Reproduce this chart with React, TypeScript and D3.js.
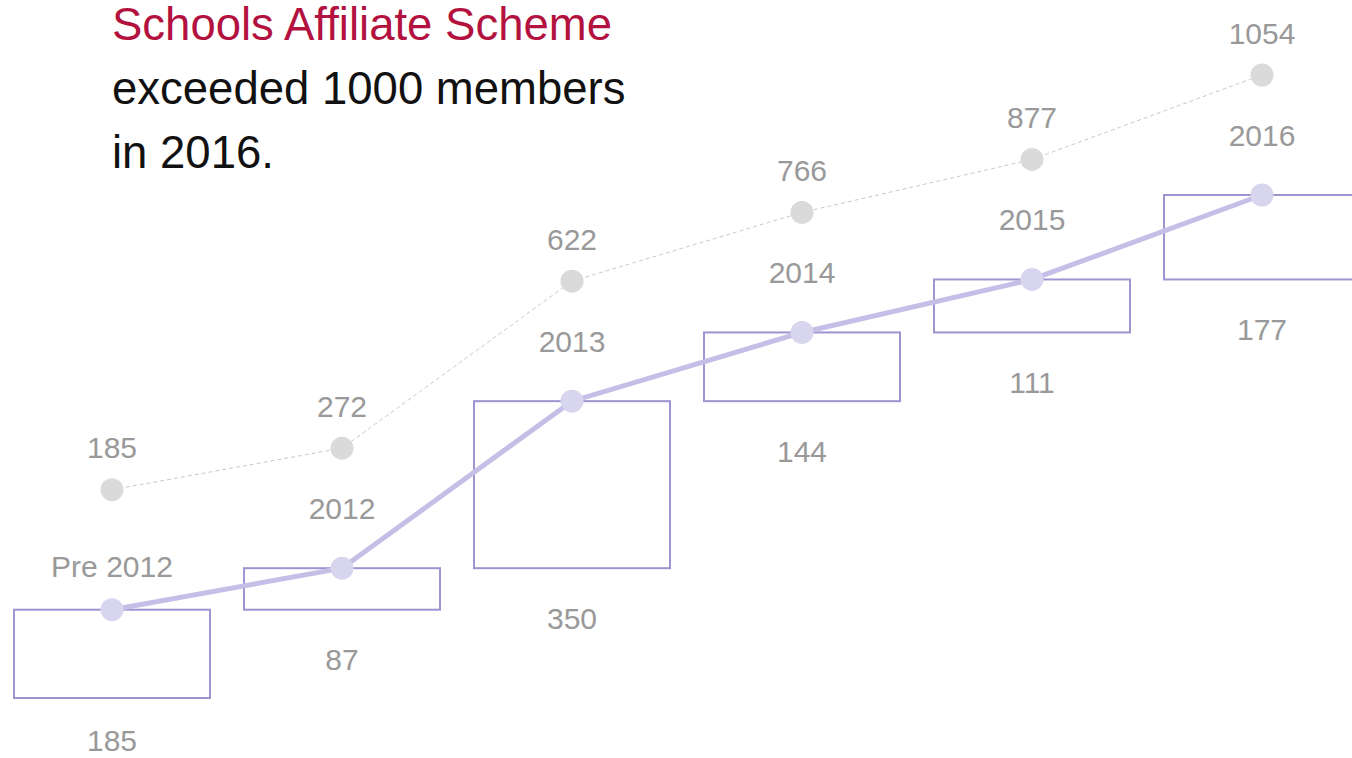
import React from "react"
import * as d3 from "d3"

// members joining in each period, and the running total
const categories = ["Pre 2012", "2012", "2013", "2014", "2015", "2016"]
const added = [185, 87, 350, 144, 111, 177]
const totals = [185, 272, 622, 766, 877, 1054]

const titleLines = ["Schools Affiliate Scheme", "exceeded 1000 members", "in 2016."]

const W = 1352
const H = 758
const font = "'Liberation Sans', Arial, Helvetica, sans-serif"

export default function App() {
  // x is the centre of each step, y is cumulative members
  const x = d3.scalePoint<string>().domain(categories).range([112, 1262])
  const y = d3.scaleLinear().domain([0, 1054]).range([698, 195])
  const grayShift = 120 // the totals line sits 120px above the steps
  const boxW = 196

  const starts = totals.map((t, i) => t - added[i])

  const stepLine = d3.line<number>()
    .x((d, i) => x(categories[i])!)
    .y(d => y(d))
  const totalLine = d3.line<number>()
    .x((d, i) => x(categories[i])!)
    .y(d => y(d) - grayShift)

  return (
    <svg width={W} height={H} style={{ position: "absolute", left: 0, top: 0 }} fontFamily={font}>
      {/* title */}
      {titleLines.map((t, i) => (
        <text key={t} x={112} y={39.5 + i * 64} fontSize={45.5}
          fill={i === 0 ? "#b3123f" : "#111"}>{t}</text>
      ))}

      {/* totals, dashed gray */}
      <path d={totalLine(totals)!} fill="none" stroke="#c9c9c9" strokeWidth={1} strokeDasharray="4,3" />
      {totals.map((t, i) => (
        <g key={"g" + i}>
          <circle cx={x(categories[i])} cy={y(t) - grayShift} r={11.5} fill="#d9dad9" />
          <text x={x(categories[i])} y={y(t) - grayShift - 42} dy="0.35em" textAnchor="middle"
            fontSize={30} fill="#999">{t}</text>
        </g>
      ))}

      {/* step boxes */}
      {categories.map((c, i) => (
        <g key={c}>
          <rect x={x(c)! - boxW / 2} y={y(totals[i])} width={boxW} height={y(starts[i]) - y(totals[i])}
            fill="none" stroke="#9d94d1" strokeWidth={2} />
          <text x={x(c)} y={Math.min(y(starts[i]) + 50, 740)} dy="0.35em" textAnchor="middle"
            fontSize={30} fill="#999">{added[i]}</text>
          <text x={x(c)} y={y(totals[i]) - (i === 0 ? 43 : 60)} dy="0.35em" textAnchor="middle"
            fontSize={30} fill="#999">{c}</text>
        </g>
      ))}

      <path d={stepLine(totals)!} fill="none" stroke="#c4bfe6" strokeWidth={5} />
      {totals.map((t, i) => (
        <circle key={"p" + i} cx={x(categories[i])} cy={y(t)} r={11.5} fill="#d8d5ef" />
      ))}
    </svg>
  )
}
